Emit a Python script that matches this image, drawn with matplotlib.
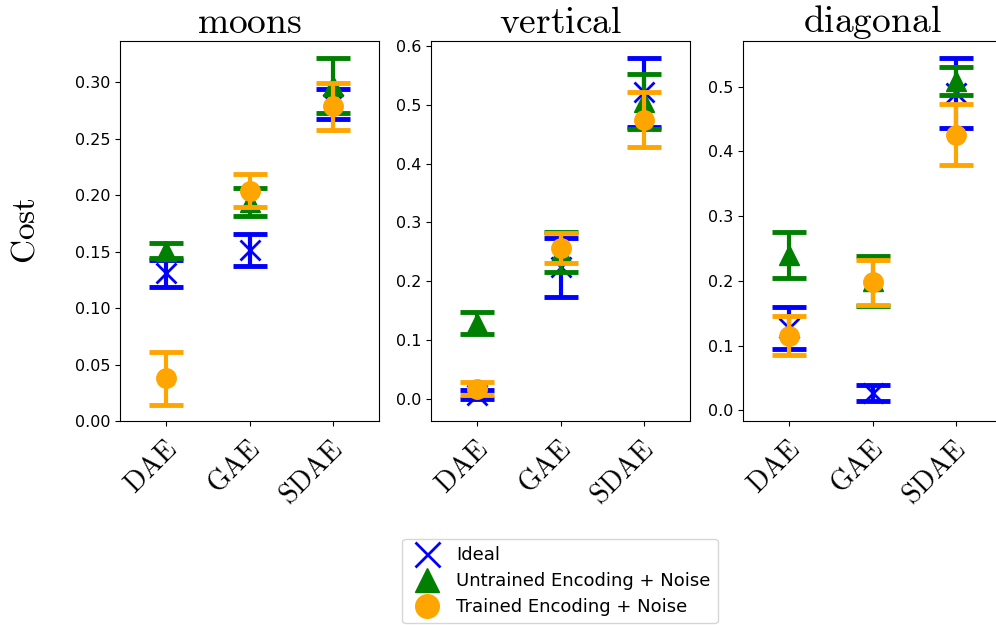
import matplotlib
matplotlib.use("Agg")
import matplotlib.pyplot as plt
from matplotlib.lines import Line2D
from matplotlib import transforms
import numpy as np

plt.rcParams['mathtext.fontset'] = 'cm'

models = ["DAE", "GAE", "SDAE"]
datasets = ["moons", "vertical", "diagonal"]
series = ["Ideal", "Untrained Encoding + Noise", "Trained Encoding + Noise"]

# mean and std per dataset, rows = series (Ideal, Untrained, Trained), cols = models
moons_mean = [[0.131, 0.1515, 0.281],
              [0.151, 0.194, 0.297],
              [0.038, 0.204, 0.279]]
moons_std = [[0.012, 0.0145, 0.0133],
             [0.0067, 0.012, 0.0245],
             [0.0235, 0.0148, 0.0208]]

vertical_mean = [[0.0077, 0.2236, 0.5207],
                 [0.129, 0.250, 0.5047],
                 [0.018, 0.256, 0.4744]]
vertical_std = [[0.0077, 0.050, 0.059],
                [0.0184, 0.034, 0.0467],
                [0.0113, 0.0255, 0.047]]

diagonal_mean = [[0.127, 0.0265, 0.4906],
                 [0.240, 0.1997, 0.509],
                 [0.1153, 0.198, 0.426]]
diagonal_std = [[0.033, 0.012, 0.054],
                [0.0348, 0.0386, 0.022],
                [0.030, 0.035, 0.047]]

means = [moons_mean, vertical_mean, diagonal_mean]
stds = [moons_std, vertical_std, diagonal_std]
ylims = [(0, 0.3366), (-0.037, 0.608), (-0.0165, 0.5706)]

colors = ["blue", "green", "orange"]
markers = ["x", "^", "o"]
msizes = [15, 14, 14]
mews = [2, 1, 1]

W, H = 996, 625
fig = plt.figure(figsize=(W / 100, H / 100), dpi=100)
lefts = [120, 431, 743]

x = np.arange(len(models))
for i, name in enumerate(datasets):
    ax = fig.add_axes([lefts[i] / W, (H - 421) / H, 259 / W, 380 / H])
    for j in range(3):
        ax.errorbar(x, means[i][j], yerr=stds[i][j], fmt='none', ecolor=colors[j],
                    elinewidth=3, capsize=12, capthick=3.5)
        ax.plot(x, means[i][j], linestyle='none', marker=markers[j], color=colors[j],
                ms=msizes[j], mew=mews[j])
    ax.set_xlim(-0.56, 2.56)
    ax.set_ylim(*ylims[i])
    ax.set_title(r'$\mathrm{' + name + '}$', fontsize=27)
    ax.set_xticks(x)
    ax.set_xticklabels([r'$\mathrm{' + m + '}$' for m in models], rotation=45,
                       ha='right', fontsize=20)
    offset = transforms.ScaledTranslation(16 / 100, -4 / 100, fig.dpi_scale_trans)
    for lab in ax.get_xticklabels():
        lab.set_transform(lab.get_transform() + offset)
    ax.tick_params(axis='y', labelsize=11.5)
    if i == 0:
        ax.set_ylabel(r'$\mathrm{Cost}$', fontsize=24, labelpad=24)

handles = [Line2D([], [], linestyle='none', marker=markers[j], color=colors[j],
                  ms=msizes[j] + 3, mew=mews[j])
           for j in range(3)]
fig.legend(handles, series, loc='center', bbox_to_anchor=(560 / W, 1 - 581 / H),
           fontsize=13, handletextpad=0.6, labelspacing=0.45, borderpad=0.4)

fig.savefig("out.png", dpi=100)
